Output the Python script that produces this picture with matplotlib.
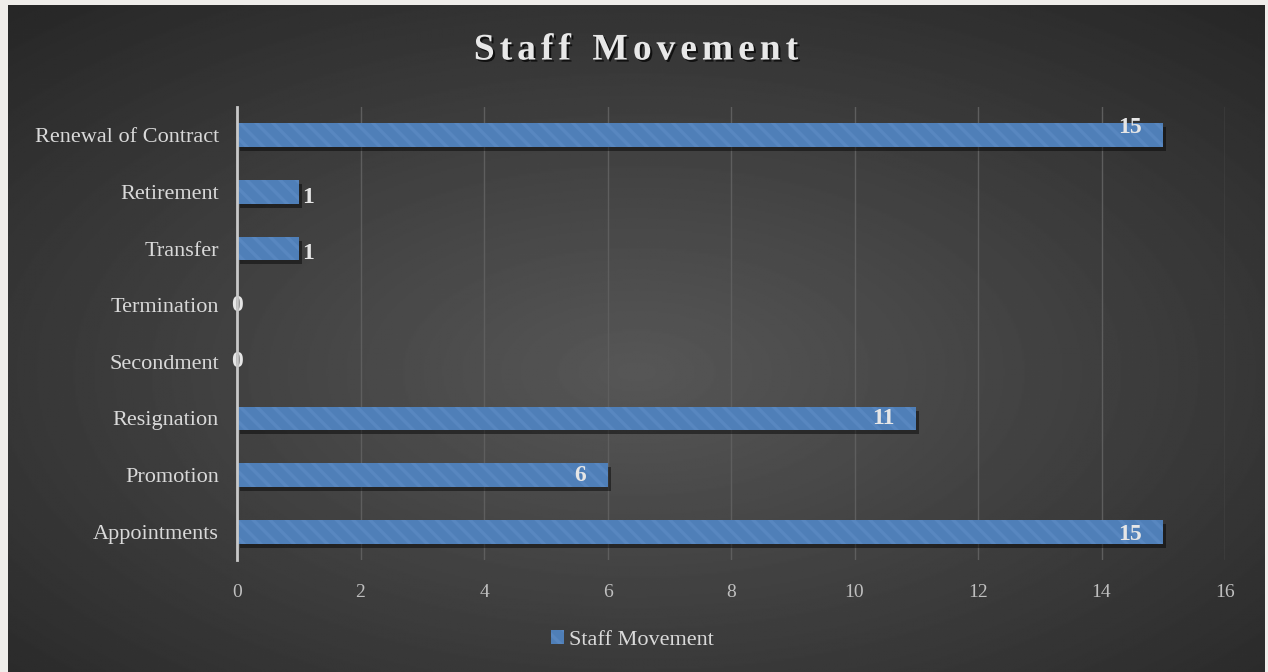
import numpy as np
import matplotlib.pyplot as plt
import matplotlib.patheffects as pe
import matplotlib.transforms as mtransforms

categories = ["Appointments", "Promotion", "Resignation", "Secondment",
              "Termination", "Transfer", "Retirement", "Renewal of Contract"]
values = [15, 6, 11, 0, 0, 1, 1, 15]
xticks = [0, 2, 4, 6, 8, 10, 12, 14, 16]

plt.rcParams['font.family'] = ['Liberation Serif', 'DejaVu Serif']
plt.rcParams['hatch.linewidth'] = 2.5

fig = plt.figure(figsize=(12.68, 6.72), dpi=100, facecolor='#efedea')

# dark panel with radial gradient
bg = fig.add_axes([8 / 1268, 0, 1257 / 1268, 667 / 672])
yy, xx = np.mgrid[0:1:400j, 0:1:800j]
r = np.sqrt(((xx - 0.5) / 0.75) ** 2 + ((yy - 0.55) / 0.75) ** 2)
r = np.clip(r, 0, 1)
shade = 0.34 - 0.19 * r
bg.imshow(shade, cmap='gray', vmin=0, vmax=1, aspect='auto', extent=[0, 1, 0, 1])
bg.axis('off')

ax = fig.add_axes([237 / 1268, 1 - 560 / 672, 988 / 1268, 453 / 672])
ax.set_facecolor('none')

y = np.arange(len(categories))

# soft shadow under the bars
shadow_tr = ax.transData + mtransforms.ScaledTranslation(3 / 100, -4 / 100, fig.dpi_scale_trans)
ax.barh(y, values, height=0.42, color='black', alpha=0.45, linewidth=0,
        transform=shadow_tr, zorder=2)

bars = ax.barh(y, values, height=0.42, color='#4f7fb8', edgecolor='#5887c0',
               linewidth=0, hatch='\\\\', zorder=3)

label_dy = [-0.05, 0, 0, 0, 0, -0.08, -0.09, 0.13]
for yi, v, dy in zip(y, values, label_dy):
    if v >= 6:
        ax.text(v - 0.35, yi + dy, str(v), ha='right', va='center', color='#e6e6e6',
                fontsize=17, fontweight='bold', zorder=4)
    elif v > 0:
        ax.text(v + 0.05, yi + dy, str(v), ha='left', va='center', color='#e6e6e6',
                fontsize=17, fontweight='bold', zorder=4)
    else:
        ax.text(0, yi, str(v), ha='center', va='center', color='#e6e6e6',
                fontsize=17, fontweight='bold', zorder=4)

ax.set_xlim(0, 16)
ax.set_ylim(-0.5, len(categories) - 0.5)
ax.set_xticks(xticks)
ax.set_xticklabels([str(t) for t in xticks])
ax.set_yticks(y)
ax.set_yticklabels(categories)
ax.tick_params(axis='x', colors='#bfbfbf', labelsize=14, length=0, pad=17)
ax.tick_params(axis='y', colors='#d9d9d9', labelsize=16, length=0, pad=13)

ax.grid(axis='x', color='#5e5e5e', linewidth=1, zorder=0)
for s in ['top', 'right', 'bottom']:
    ax.spines[s].set_visible(False)
ax.spines['left'].set_color('#c8c8c8')
ax.spines['left'].set_linewidth(2)
ax.spines['left'].set_zorder(5)

# title with letter spacing
title = "Staff Movement"
fig.canvas.draw()
renderer = fig.canvas.get_renderer()
spacing = 5
widths = []
for ch in title:
    t = fig.text(0, 0, ch if ch != ' ' else 'n', fontsize=27, fontweight='bold')
    w = t.get_window_extent(renderer).width
    widths.append(w * (0.55 if ch == ' ' else 1))
    t.remove()
total = sum(widths) + spacing * (len(title) - 1)
xpos = 636 - total / 2
for ch, w in zip(title, widths):
    if ch != ' ':
        fig.text(xpos / 1268, 1 - 50 / 672, ch, ha='left', va='center',
                 fontsize=27, fontweight='bold', color='#e8e8e8',
                 path_effects=[pe.withSimplePatchShadow(offset=(1.5, -1.5),
                                                        shadow_rgbFace='black', alpha=0.7)])
    xpos += w + spacing

# legend
leg = ax.legend([bars[0]], ["Staff Movement"], loc='center', bbox_to_anchor=(0.4, -0.177),
                frameon=False, fontsize=16, handlelength=0.6, handleheight=0.6,
                handletextpad=0.2, labelcolor='#d9d9d9')

fig.savefig("out.png", dpi=100, facecolor=fig.get_facecolor())
